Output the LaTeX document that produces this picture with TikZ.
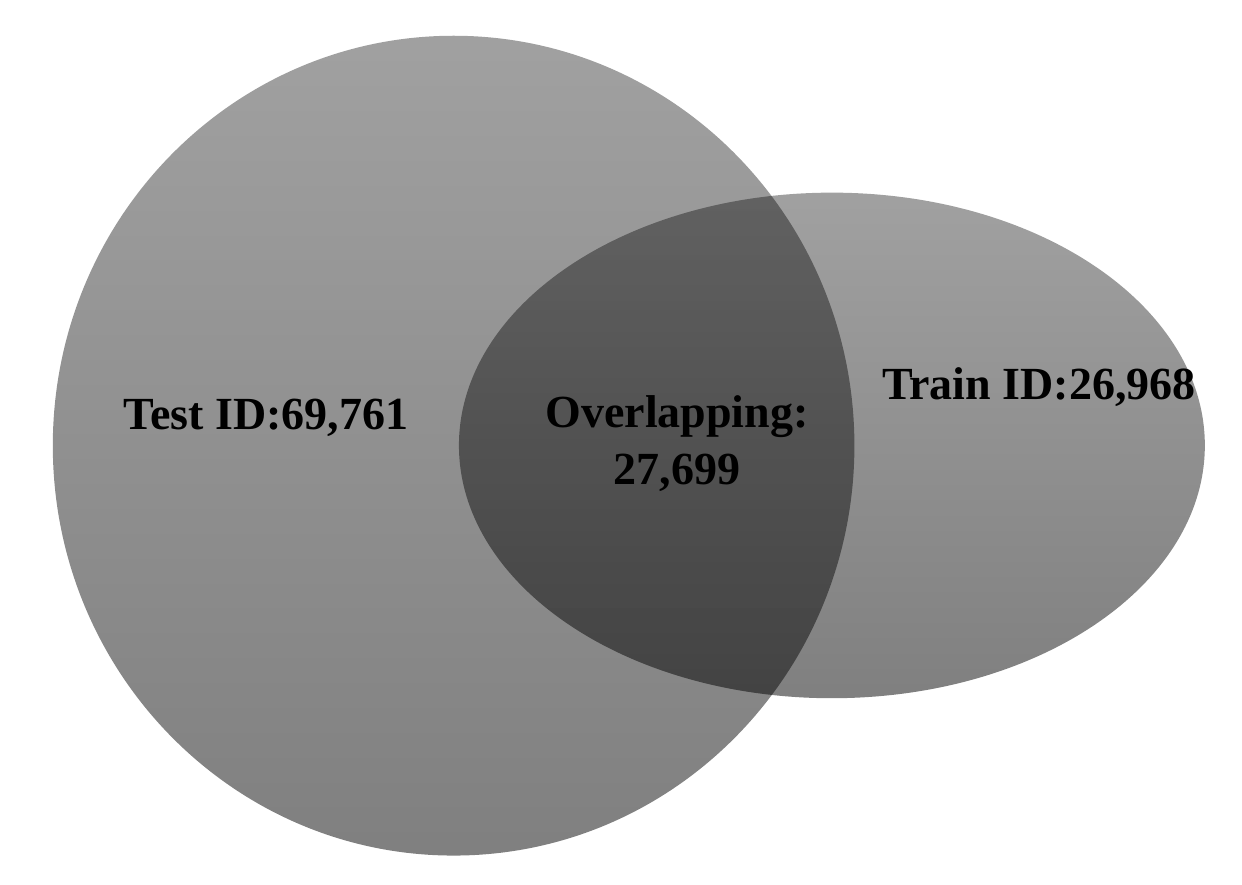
\documentclass[tikz,border=0pt]{standalone}
\usepackage{fontspec}
\setmainfont{Liberation Serif}
\usetikzlibrary{fadings}

\tikzfading[name=vennfade, top color=transparent!63, bottom color=transparent!50]

\begin{document}
\begin{tikzpicture}[x=1pt, y=1pt, every node/.style={font=\fontsize{46}{57}\selectfont\bfseries}]
\useasboundingbox (0,0) rectangle (1242,884);
\fill[black, path fading=vennfade] (454,439.5) ellipse [x radius=401, y radius=410.5];
\fill[black, path fading=vennfade] (832,439) ellipse [x radius=373, y radius=253];
\node[anchor=base] (test) at (266,454) {Test ID:69,761};
\node[anchor=base, align=center] (overlap) at (677,399) {Overlapping:\\27,699};
\node[anchor=base] (train) at (1039,484) {Train ID:26,968};
\end{tikzpicture}
\end{document}
